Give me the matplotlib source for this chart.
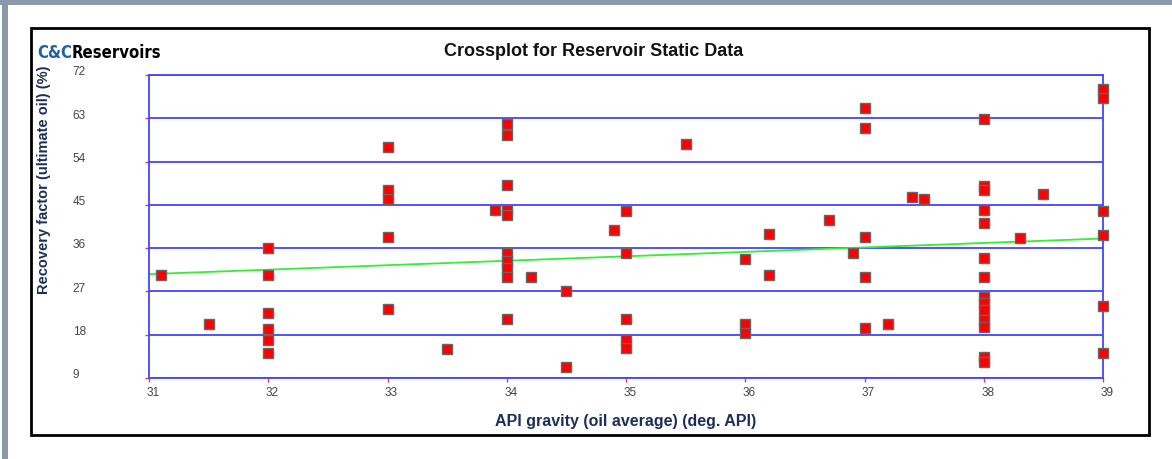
import numpy as np
import matplotlib
matplotlib.use("Agg")
import matplotlib.pyplot as plt
import matplotlib.transforms as mtransforms
from matplotlib import font_manager
from matplotlib.patches import Rectangle

# API gravity (deg. API) vs recovery factor (%)
api_gravity = [31.1, 31.5,
               32, 32, 32, 32, 32, 32,
               33, 33, 33, 33, 33, 33.5, 33.9,
               34, 34, 34, 34, 34, 34, 34, 34, 34, 34, 34.2, 34.5, 34.5, 34.9,
               35, 35, 35, 35, 35, 35.5,
               36, 36, 36, 36.2, 36.2, 36.7, 36.9,
               37, 37, 37, 37, 37, 37.2, 37.4, 37.5,
               38, 38, 38, 38, 38, 38, 38, 38, 38, 38, 38, 38, 38, 38, 38.3, 38.5,
               39, 39, 39, 39, 39, 39]
recovery = [30.5, 20.2,
            36.0, 30.4, 22.6, 19.1, 17.0, 14.3,
            57.1, 48.1, 46.3, 38.4, 23.3, 15.1, 43.9,
            61.9, 59.5, 49.1, 43.9, 42.9, 34.9, 33.4, 31.8, 29.9, 21.2, 30.1, 27.0, 11.2, 39.8,
            43.8, 34.9, 21.3, 16.8, 15.2, 57.6,
            33.8, 20.2, 18.4, 38.9, 30.4, 41.8, 35.0,
            65.1, 61.0, 38.4, 30.1, 19.5, 20.2, 46.7, 46.2,
            62.9, 48.9, 48.0, 43.9, 41.3, 34.0, 30.1, 25.9, 24.5, 23.1, 21.1, 19.7, 13.4, 12.4, 38.2, 47.2,
            69.0, 67.3, 43.7, 38.7, 24.0, 14.1]

# trend line end points
trend_x = [31, 39]
trend_y = [30.6, 38.0]

x_ticks = [31, 32, 33, 34, 35, 36, 37, 38, 39]
y_ticks = [9, 18, 27, 36, 45, 54, 63, 72]

plt.rcParams['font.family'] = ['Liberation Sans', 'DejaVu Sans']

# logo font: a condensed face if one is installed
logo_fp = font_manager.FontProperties(family='DejaVu Sans', stretch='condensed', weight='bold')
if 'ondensed' in font_manager.findfont(logo_fp):
    logo_kw = dict(fontproperties=font_manager.FontProperties(
        family='DejaVu Sans', stretch='condensed', weight='bold', size=12))
else:
    logo_kw = dict(family='Liberation Sans', fontsize=12.5)

fig = plt.figure(figsize=(11.72, 4.59), dpi=100)
fig.patch.set_facecolor('white')

# window frame and the black chart box
fig.patches.append(Rectangle((0, 0.99), 1, 0.01, transform=fig.transFigure,
                             facecolor='#8a9aab', edgecolor='none'))
fig.patches.append(Rectangle((0.002, 0), 0.005, 1, transform=fig.transFigure,
                             facecolor='#8a9aab', edgecolor='none'))
fig.patches.append(Rectangle((31 / 1172, 1 - 435 / 459), (1149 - 31) / 1172, (435 - 28) / 459,
                             transform=fig.transFigure, facecolor='none',
                             edgecolor='black', linewidth=2))

ax = fig.add_axes([149 / 1172, 1 - 378 / 459, 954 / 1172, 303 / 459])

# horizontal grid
for yv in y_ticks:
    ax.axhline(yv, color='#4444ff', linewidth=1.3, zorder=1)

ax.plot(trend_x, trend_y, color='#33ee33', linewidth=1.3, zorder=2)
ax.plot(api_gravity, recovery, linestyle='none', marker='s', markersize=7,
        markerfacecolor='#ff0000', markeredgecolor='#666666', markeredgewidth=1,
        clip_on=False, zorder=3)

ax.set_xlim(31, 39)
ax.set_ylim(9, 72)
ax.set_xticks(x_ticks)
ax.set_yticks(y_ticks)

for side in ['left', 'right', 'bottom', 'top']:
    ax.spines[side].set_color('#4444ff')
    ax.spines[side].set_linewidth(1.3)

ax.tick_params(axis='both', colors='#ff3030', length=3, width=1, labelsize=8.5,
               labelcolor='#444444')
ax.tick_params(axis='y', pad=52)
for lbl in ax.get_yticklabels():
    lbl.set_horizontalalignment('left')
    lbl.set_transform(lbl.get_transform() +
                      mtransforms.ScaledTranslation(0, 3 / 72, fig.dpi_scale_trans))
for lbl in ax.get_xticklabels():
    lbl.set_transform(lbl.get_transform() +
                      mtransforms.ScaledTranslation(4 / 100, 0, fig.dpi_scale_trans))

# titles and axis labels
fig.text(594 / 1172, 1 - 51 / 459, 'Crossplot for Reservoir Static Data',
         ha='center', va='center', fontsize=13, fontweight='bold', color='#111111')
ax.set_xlabel('API gravity (oil average) (deg. API)', fontsize=11.5, fontweight='bold',
              color='#1c2f5a', labelpad=11)
fig.text(44 / 1172, 1 - 180 / 459, 'Recovery factor (ultimate oil) (%)', rotation=90,
         ha='center', va='center', fontsize=10.5, fontweight='bold', color='#1c2f5a')

# company logo
logo = fig.text(37 / 1172, 1 - 58 / 459, 'C&C', color='#1f5fa8', va='baseline', **logo_kw)
ax.annotate('Reservoirs', xy=(1, 0), xycoords=logo, va='bottom', ha='left',
            color='black', annotation_clip=False, **logo_kw)

fig.savefig('out.png', dpi=100, facecolor='white')
